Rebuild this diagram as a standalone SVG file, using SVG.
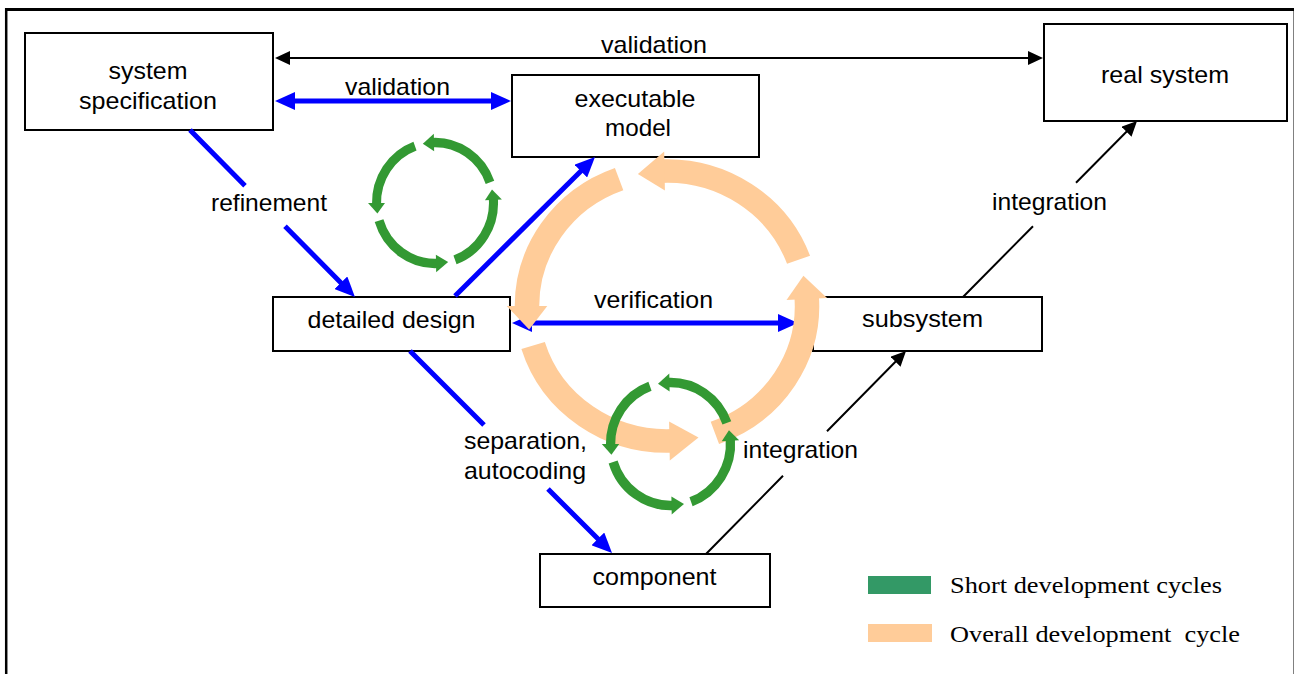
<svg xmlns="http://www.w3.org/2000/svg" xmlns:xlink="http://www.w3.org/1999/xlink" width="1296" height="674" viewBox="0 0 1296 674">
  <style>
    .box { fill: #ffffff; stroke: #000000; stroke-width: 2; }
    .lbl { font-family: "Liberation Sans", Arial, sans-serif; font-size: 24px; fill: #000000; text-anchor: middle; }
    .leg { font-family: "Liberation Serif", "Times New Roman", serif; font-size: 24px; fill: #000000; white-space: pre; }
    .blue { fill: none; stroke: #0000ff; stroke-width: 5; }
    .thin { fill: none; stroke: #000000; stroke-width: 2; }
    #cycle path { fill: none; stroke: currentColor; }
    #cycle polygon { fill: currentColor; stroke: none; }
  </style>
  <defs>
    <marker id="headBlue" markerUnits="userSpaceOnUse" markerWidth="20" markerHeight="18" refX="1" refY="9" orient="auto-start-reverse">
      <path d="M0 0 L20 9 L0 18 Z" fill="#0000ff"/>
    </marker>
    <marker id="headBlack" markerUnits="userSpaceOnUse" markerWidth="15" markerHeight="14" refX="1" refY="7" orient="auto-start-reverse">
      <path d="M0 0 L15 7 L0 14 Z" fill="#000000"/>
    </marker>
    <!-- four curved arrows on a circle of radius 100, running anticlockwise -->
    <g id="cycle">
      <path d="M93.97 -34.20 A100 100 0 0 0 -4.36 -99.90"/>
      <polygon points="-2.00,-114.48 -20.79,-97.81 -1.49,-85.49"/>
      <path d="M-34.20 -93.97 A100 100 0 0 0 -99.97 2.62"/>
      <polygon points="-114.5,0 -98.48,17.36 -85.5,0"/>
      <path d="M-95.63 29.24 A100 100 0 0 0 4.36 99.90"/>
      <polygon points="2.00,114.48 22.50,97.44 1.49,85.49"/>
      <path d="M34.20 93.97 A100 100 0 0 0 99.69 -7.85"/>
      <polygon points="114.34,-5.99 97.44,-22.50 85.38,-4.47"/>
    </g>
  </defs>

  <rect width="1296" height="674" fill="#ffffff"/>

  <!-- page frame -->
  <g id="frame">
    <line x1="6.2" y1="8" x2="6.2" y2="674" stroke="#000000" stroke-width="2.5"/>
    <line x1="5" y1="9.5" x2="1294" y2="9.5" stroke="#000000" stroke-width="3"/>
    <line x1="1293.5" y1="11" x2="1293.5" y2="674" stroke="#808080" stroke-width="1"/>
  </g>

  <!-- nodes -->
  <g id="system-specification">
    <rect class="box" x="25" y="33" width="248" height="97"/>
    <text class="lbl" x="148" y="79" textLength="79" lengthAdjust="spacingAndGlyphs">system</text>
    <text class="lbl" x="148" y="109" textLength="138" lengthAdjust="spacingAndGlyphs">specification</text>
  </g>
  <g id="real-system">
    <rect class="box" x="1044" y="24" width="243" height="97"/>
    <text class="lbl" x="1165" y="83" textLength="128" lengthAdjust="spacingAndGlyphs">real system</text>
  </g>
  <g id="executable-model">
    <rect class="box" x="512" y="75" width="247" height="82"/>
    <text class="lbl" x="635" y="107" textLength="121" lengthAdjust="spacingAndGlyphs">executable</text>
    <text class="lbl" x="638" y="136" textLength="66" lengthAdjust="spacingAndGlyphs">model</text>
  </g>
  <g id="detailed-design">
    <rect class="box" x="273" y="297" width="237" height="54"/>
    <text class="lbl" x="391.5" y="328" textLength="168" lengthAdjust="spacingAndGlyphs">detailed design</text>
  </g>
  <g id="subsystem">
    <rect class="box" x="813" y="297" width="229" height="54"/>
    <text class="lbl" x="922.5" y="327" textLength="121" lengthAdjust="spacingAndGlyphs">subsystem</text>
  </g>
  <g id="component">
    <rect class="box" x="540" y="554" width="230" height="53"/>
    <text class="lbl" x="654.5" y="585" textLength="124" lengthAdjust="spacingAndGlyphs">component</text>
  </g>

  <!-- connectors -->
  <g id="connectors">
    <!-- specification <-> real system -->
    <line class="thin" x1="289" y1="58" x2="1029" y2="58" marker-start="url(#headBlack)" marker-end="url(#headBlack)"/>
    <text class="lbl" x="654" y="53" textLength="106" lengthAdjust="spacingAndGlyphs">validation</text>

    <!-- specification <-> executable model -->
    <line class="blue" x1="294" y1="101" x2="492" y2="101" marker-start="url(#headBlue)" marker-end="url(#headBlue)"/>
    <text class="lbl" x="397.5" y="95" textLength="105" lengthAdjust="spacingAndGlyphs">validation</text>

    <!-- refinement -->
    <path class="blue" d="M190 130 L245 185.7 M285 226.2 L341.6 283.5" marker-end="url(#headBlue)"/>
    <text class="lbl" x="269" y="211" textLength="116" lengthAdjust="spacingAndGlyphs">refinement</text>

    <!-- detailed design -> executable model -->
    <line class="blue" x1="455" y1="296" x2="581.5" y2="170.4" marker-end="url(#headBlue)"/>

    <!-- verification -->
    <line class="blue" x1="531" y1="323" x2="779" y2="323" marker-start="url(#headBlue)" marker-end="url(#headBlue)"/>
    <text class="lbl" x="653.5" y="308" textLength="119" lengthAdjust="spacingAndGlyphs">verification</text>

    <!-- separation, autocoding -->
    <path class="blue" d="M410 351 L484 425 M548 489 L598.6 539.6" marker-end="url(#headBlue)"/>
    <text class="lbl" x="525.5" y="449" textLength="123" lengthAdjust="spacingAndGlyphs">separation,</text>
    <text class="lbl" x="525" y="479" textLength="122" lengthAdjust="spacingAndGlyphs">autocoding</text>

    <!-- component -> subsystem -->
    <path class="thin" d="M706 554 L783 475.8 M827 431.2 L896.2 361" marker-end="url(#headBlack)"/>
    <text class="lbl" x="800.5" y="458" textLength="115" lengthAdjust="spacingAndGlyphs">integration</text>

    <!-- subsystem -> real system -->
    <path class="thin" d="M963 297 L1033 226.2 M1076 182.7 L1127.2 131" marker-end="url(#headBlack)"/>
    <text class="lbl" x="1049.5" y="210" textLength="115" lengthAdjust="spacingAndGlyphs">integration</text>
  </g>

  <!-- overall development cycle -->
  <g id="overall-cycle">
    <use xlink:href="#cycle" transform="translate(667 306) scale(1.4 1.35)" stroke-width="17.5" style="color:#FFCC99"/>
  </g>

  <!-- short development cycles -->
  <g id="short-cycles">
    <use xlink:href="#cycle" transform="translate(435 203) scale(0.585 0.605)" stroke-width="15.5" style="color:#339933"/>
    <use xlink:href="#cycle" transform="translate(670.5 444) scale(0.6 0.615)" stroke-width="15.5" style="color:#339933"/>
  </g>

  <!-- legend -->
  <g id="legend">
    <rect x="868" y="576" width="63" height="18" fill="#339966"/>
    <text class="leg" x="950" y="593" textLength="272" lengthAdjust="spacingAndGlyphs">Short development cycles</text>
    <rect x="868" y="624" width="64" height="18" fill="#FFCC99"/>
    <text class="leg" x="950" y="642" textLength="290" lengthAdjust="spacingAndGlyphs" xml:space="preserve">Overall development  cycle</text>
  </g>
</svg>
